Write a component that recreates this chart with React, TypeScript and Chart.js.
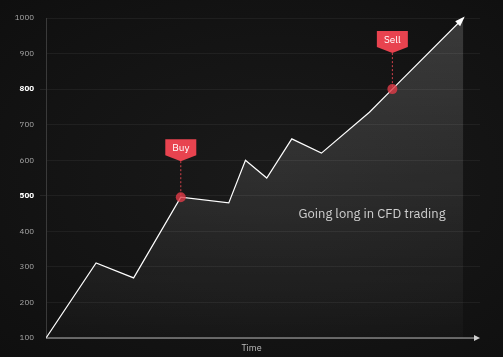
import React, { useEffect, useRef } from "react";
import { Chart, registerables } from "chart.js";

Chart.register(...registerables);

const timeValues = [0, 12, 21, 32.3, 43.8, 47.8, 52.9, 58.9, 66, 77.5, 83, 100];
const prices = [100, 311, 269, 496, 480, 600, 550, 660, 620, 735, 800, 1000];
const yTicks = [100, 200, 300, 400, 500, 600, 700, 800, 900, 1000];
const highlightTicks = [500, 800];
const signals = [
  { label: "Buy", index: 3 },
  { label: "Sell", index: 10 },
];
const annotationText = "Going long in CFD trading";
const annotationAt = { x: 60.5, y: 449 };
const xAxisTitle = "Time";

const FONT = "'IBM Plex Sans', Roboto, 'Open Sans', sans-serif";

export default function App() {
  const ref = useRef<HTMLCanvasElement | null>(null);

  useEffect(() => {
    const canvas = ref.current;
    if (!canvas) return;

    const overlay = {
      id: "overlay",
      afterDatasetsDraw(chart: any) {
        const ctx = chart.ctx;
        const xs = chart.scales.x;
        const ys = chart.scales.y;
        const area = chart.chartArea;
        ctx.save();

        // x axis line with arrow
        const y0 = ys.getPixelForValue(100);
        const xEnd = area.right - 4;
        ctx.strokeStyle = "#b5b5b5";
        ctx.lineWidth = 1.2;
        ctx.beginPath();
        ctx.moveTo(area.left, y0);
        ctx.lineTo(xEnd, y0);
        ctx.stroke();
        ctx.fillStyle = "#d0d0d0";
        ctx.beginPath();
        ctx.moveTo(xEnd + 4, y0);
        ctx.lineTo(xEnd - 2, y0 - 3);
        ctx.lineTo(xEnd - 2, y0 + 3);
        ctx.closePath();
        ctx.fill();

        // x axis title, centred on the canvas
        ctx.fillStyle = "#bdbdbd";
        ctx.font = `9px ${FONT}`;
        ctx.textAlign = "center";
        ctx.textBaseline = "middle";
        ctx.fillText(xAxisTitle, chart.width / 2, (y0 + chart.height) / 2 + 1);

        // arrow at the end of the line
        const meta = chart.getDatasetMeta(0);
        const pts = meta.data;
        const pA = pts[pts.length - 2];
        const pB = pts[pts.length - 1];
        const ang = Math.atan2(pB.y - pA.y, pB.x - pA.x);
        const s = 8;
        ctx.fillStyle = "#ffffff";
        ctx.beginPath();
        ctx.moveTo(pB.x + Math.cos(ang) * 2, pB.y + Math.sin(ang) * 2);
        ctx.lineTo(
          pB.x - Math.cos(ang) * s + Math.cos(ang + Math.PI / 2) * 3.5,
          pB.y - Math.sin(ang) * s + Math.sin(ang + Math.PI / 2) * 3.5
        );
        ctx.lineTo(
          pB.x - Math.cos(ang) * s - Math.cos(ang + Math.PI / 2) * 3.5,
          pB.y - Math.sin(ang) * s - Math.sin(ang + Math.PI / 2) * 3.5
        );
        ctx.closePath();
        ctx.fill();

        // signals
        signals.forEach((sg) => {
          const px = xs.getPixelForValue(timeValues[sg.index]);
          const py = ys.getPixelForValue(prices[sg.index]);
          const tipY = py - 36;
          const boxH = 16;
          const boxW = 31;
          const boxTop = tipY - 6 - boxH;
          ctx.setLineDash([2, 2]);
          ctx.strokeStyle = "rgba(232,70,80,0.9)";
          ctx.lineWidth = 1;
          ctx.beginPath();
          ctx.moveTo(px, tipY);
          ctx.lineTo(px, py);
          ctx.stroke();
          ctx.setLineDash([]);
          ctx.fillStyle = "rgba(225,60,72,0.8)";
          ctx.beginPath();
          ctx.arc(px, py, 5, 0, Math.PI * 2);
          ctx.fill();
          ctx.fillStyle = "#e8434f";
          ctx.beginPath();
          ctx.moveTo(px - boxW / 2, boxTop);
          ctx.lineTo(px + boxW / 2, boxTop);
          ctx.lineTo(px + boxW / 2, boxTop + boxH);
          ctx.lineTo(px, tipY);
          ctx.lineTo(px - boxW / 2, boxTop + boxH);
          ctx.closePath();
          ctx.fill();
          ctx.fillStyle = "#ffffff";
          ctx.font = `10px ${FONT}`;
          ctx.textAlign = "center";
          ctx.textBaseline = "middle";
          ctx.fillText(sg.label, px, boxTop + boxH / 2 + 0.5);
        });

        // annotation
        ctx.fillStyle = "#cfcfcf";
        ctx.font = `13px ${FONT}`;
        ctx.textAlign = "left";
        ctx.textBaseline = "middle";
        ctx.fillText(
          annotationText,
          xs.getPixelForValue(annotationAt.x),
          ys.getPixelForValue(annotationAt.y)
        );
        ctx.restore();
      },
    };

    const chart = new Chart(canvas, {
      type: "line",
      data: {
        datasets: [
          {
            data: timeValues.map((t, i) => ({ x: t, y: prices[i] })),
            borderColor: "#ffffff",
            borderWidth: 1.2,
            pointRadius: 0,
            tension: 0,
            fill: "start",
            backgroundColor: (c: any) => {
              const a = c.chart.chartArea;
              if (!a) return "rgba(255,255,255,0.08)";
              const g = c.chart.ctx.createLinearGradient(0, a.top, 0, a.bottom);
              g.addColorStop(0, "rgba(255,255,255,0.17)");
              g.addColorStop(1, "rgba(255,255,255,0.02)");
              return g;
            },
          },
        ],
      },
      options: {
        responsive: false,
        maintainAspectRatio: false,
        animation: false,
        devicePixelRatio: 1,
        layout: { padding: { top: 18, right: 23, left: 0, bottom: 0 } },
        plugins: {
          legend: { display: false },
          tooltip: { enabled: false },
        },
        scales: {
          x: {
            type: "linear",
            min: 0,
            max: 104,
            grid: { display: false },
            border: { display: false },
            ticks: { display: false },
            title: { display: false },
            afterFit: (s: any) => {
              s.height = 19;
            },
          },
          y: {
            min: 100,
            max: 1000,
            afterBuildTicks: (s: any) => {
              s.ticks = yTicks.map((v) => ({ value: v }));
            },
            ticks: {
              padding: 6,
              callback: (v: any) => String(v),
              color: (c: any) =>
                highlightTicks.includes(c.tick?.value) ? "#ffffff" : "#a8a8a8",
              font: (c: any) => ({
                size: 8,
                family: FONT,
                weight: highlightTicks.includes(c.tick?.value) ? "bold" : "normal",
              }),
            },
            grid: {
              color: "rgba(255,255,255,0.055)",
              tickLength: 6,
              tickColor: (c: any) =>
                highlightTicks.includes(c.tick?.value)
                  ? "rgba(255,255,255,0.08)"
                  : "rgba(0,0,0,0)",
            },
            border: { color: "#3a3a3a", width: 1 },
            afterFit: (s: any) => {
              s.width = 46;
            },
          },
        },
      },
      plugins: [overlay],
    });

    return () => chart.destroy();
  }, []);

  return (
    <div
      style={{
        position: "fixed",
        left: 0,
        top: 0,
        width: 503,
        height: 357,
        background:
          "radial-gradient(ellipse at 55% 50%, #1a1a1a 0%, #141414 55%, #0f0f0f 100%)",
      }}
    >
      <canvas ref={ref} width={503} height={357} style={{ display: "block" }} />
    </div>
  );
}
